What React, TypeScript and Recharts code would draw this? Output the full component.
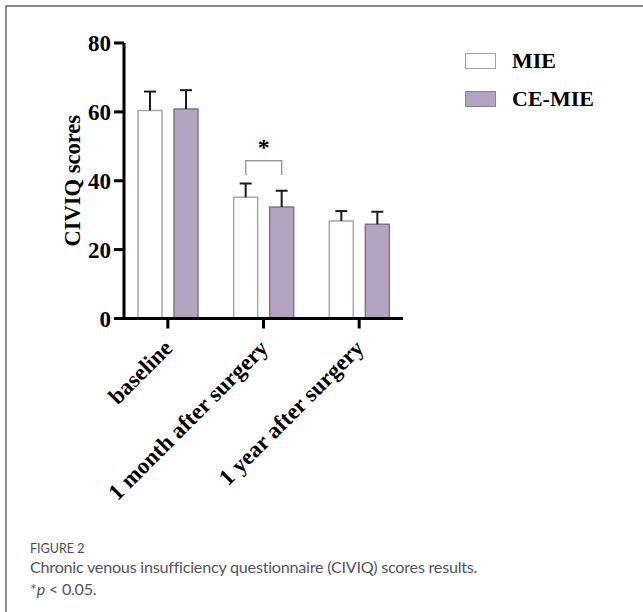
import { BarChart, Bar, XAxis, YAxis, LabelList, Rectangle } from "recharts";

const categories = ["baseline", "1 month after surgery", "1 year after surgery"];
const mieMeans = [60.4, 35.2, 28.3];
const mieSD = [5.5, 4.0, 2.9];
const ceMeans = [60.8, 32.4, 27.4];
const ceSD = [5.5, 4.7, 3.6];
const yTicks = [0, 20, 40, 60, 80];
// significance bracket between MIE and CE-MIE at one time point
const sigIndex = 1;
const sigTop = 45.8;
const sigLeg = 41.7;
const sigText = "*";

const MIE_FILL = "#ffffff";
const CE_FILL = "#b3a4c1";
const SERIF = "'Liberation Serif', 'Times New Roman', serif";
const SANS = "Lato, 'Open Sans', sans-serif";
const BAR_SIZE = 24;
const BAR_GAP = 12;

const data = categories.map((name, i) => ({
  name,
  mie: mieMeans[i],
  ce: ceMeans[i],
  mieSd: mieSD[i],
  ceSd: ceSD[i],
}));

// bar with an upward-only SD whisker, scaled from the bar's own px/unit
const barWithWhisker = (sdKey: string) => (props: any) => {
  const { x, y, width, height, value, payload } = props;
  const v = Array.isArray(value) ? value[1] - value[0] : value;
  const ppu = height / v;
  const cx = x + width / 2;
  const top = y - payload[sdKey] * ppu;
  return (
    <g>
      <Rectangle {...props} />
      <line x1={cx} y1={y} x2={cx} y2={top} stroke="#1a1a1a" strokeWidth={2} />
      <line x1={cx - 6} y1={top} x2={cx + 6} y2={top} stroke="#1a1a1a" strokeWidth={2} />
    </g>
  );
};

const XTick = (props: any) => {
  const { x, y, payload } = props;
  const tx = x + 6;
  const ty = y + 19;
  return (
    <text
      x={tx}
      y={ty}
      transform={`rotate(-45, ${tx}, ${ty})`}
      textAnchor="end"
      fontFamily={SERIF}
      fontWeight="bold"
      fontSize={23}
      fill="#000"
    >
      {payload.value}
    </text>
  );
};

const YLabel = (props: any) => {
  const { viewBox } = props;
  const cx = viewBox.x + 52;
  const cy = viewBox.y + viewBox.height / 2;
  return (
    <text
      x={cx}
      y={cy}
      transform={`rotate(-90, ${cx}, ${cy})`}
      textAnchor="middle"
      dominantBaseline="central"
      fontFamily={SERIF}
      fontWeight="bold"
      fontSize={22.5}
      fill="#000"
    >
      CIVIQ scores
    </text>
  );
};

const Bracket = (props: any) => {
  const { x, y, width, height, value, index } = props;
  if (index !== sigIndex) return null;
  const ppu = height / value;
  const base = y + height;
  const right = x + width / 2;
  const left = right - (width + BAR_GAP);
  const top = base - sigTop * ppu;
  const leg = base - sigLeg * ppu;
  return (
    <g>
      <path
        d={`M${left},${leg} L${left},${top} L${right},${top} L${right},${leg}`}
        fill="none"
        stroke="#9a9a9a"
        strokeWidth={1.5}
      />
      <text
        x={(left + right) / 2}
        y={top - 6}
        textAnchor="middle"
        fontFamily={SERIF}
        fontWeight="bold"
        fontSize={24}
        fill="#000"
      >
        {sigText}
      </text>
    </g>
  );
};

const legendItems = [
  { label: "MIE", fill: MIE_FILL, stroke: "#a0a0a0" },
  { label: "CE-MIE", fill: CE_FILL, stroke: "#8c8094" },
];

export default function App() {
  return (
    <div
      style={{
        position: "absolute",
        left: 0,
        top: 0,
        width: 643,
        height: 612,
        background: "#fff",
        overflow: "hidden",
      }}
    >
      <div
        style={{
          position: "absolute",
          left: 5,
          top: 5,
          width: 700,
          height: 700,
          borderLeft: "2px solid #8a8a8a",
          borderTop: "2px solid #8a8a8a",
        }}
      />
      <div style={{ position: "absolute", left: 0, top: 0 }}>
        <BarChart
          width={643}
          height={530}
          data={data}
          margin={{ top: 43, right: 240, bottom: 61.5, left: 20 }}
          barSize={BAR_SIZE}
          barGap={BAR_GAP}
        >
          <XAxis
            dataKey="name"
            height={150}
            interval={0}
            padding={{ left: -4, right: -4 }}
            axisLine={{ stroke: "#000", strokeWidth: 3 }}
            tickLine={{ stroke: "#000", strokeWidth: 3 }}
            tickSize={10}
            tick={<XTick />}
          />
          <YAxis
            width={104}
            domain={[0, 80]}
            ticks={yTicks}
            interval={0}
            axisLine={{ stroke: "#000", strokeWidth: 3 }}
            tickLine={{ stroke: "#000", strokeWidth: 3 }}
            tickSize={10}
            tickMargin={3}
            tick={{ fontFamily: SERIF, fontWeight: "bold", fontSize: 23, fill: "#000" }}
            label={<YLabel />}
          />
          <Bar
            dataKey="mie"
            name="MIE"
            fill={MIE_FILL}
            stroke="#a8a8a8"
            strokeWidth={1.5}
            shape={barWithWhisker("mieSd")}
            isAnimationActive={false}
          />
          <Bar
            dataKey="ce"
            name="CE-MIE"
            fill={CE_FILL}
            stroke="#7f7587"
            strokeWidth={1.5}
            shape={barWithWhisker("ceSd")}
            isAnimationActive={false}
          >
            <LabelList dataKey="ce" content={<Bracket />} />
          </Bar>
        </BarChart>
      </div>
      <div
        style={{
          position: "absolute",
          left: 465,
          top: 49,
          fontFamily: SERIF,
          fontWeight: "bold",
          fontSize: 22,
          color: "#000",
        }}
      >
        {legendItems.map((it, i) => (
          <div
            key={it.label}
            style={{ display: "flex", alignItems: "center", height: 24, marginBottom: i === 0 ? 14 : 0 }}
          >
            <div
              style={{
                width: 29,
                height: 14,
                background: it.fill,
                border: `1px solid ${it.stroke}`,
                marginRight: 16,
              }}
            />
            <span>{it.label}</span>
          </div>
        ))}
      </div>
      <div
        style={{
          position: "absolute",
          left: 30,
          top: 540.5,
          fontFamily: SANS,
          fontSize: 12.5,
          lineHeight: "15px",
          color: "#4a4a4a",
          whiteSpace: "nowrap",
        }}
      >
        FIGURE 2
      </div>
      <div
        style={{
          position: "absolute",
          left: 30,
          top: 555.5,
          fontFamily: SANS,
          fontSize: 16.2,
          lineHeight: "22px",
          color: "#555",
          whiteSpace: "nowrap",
          letterSpacing: -0.25,
        }}
      >
        <div>Chronic venous insufficiency questionnaire (CIVIQ) scores results.</div>
        <div>
          *<i>p</i> &lt; 0.05.
        </div>
      </div>
    </div>
  );
}
